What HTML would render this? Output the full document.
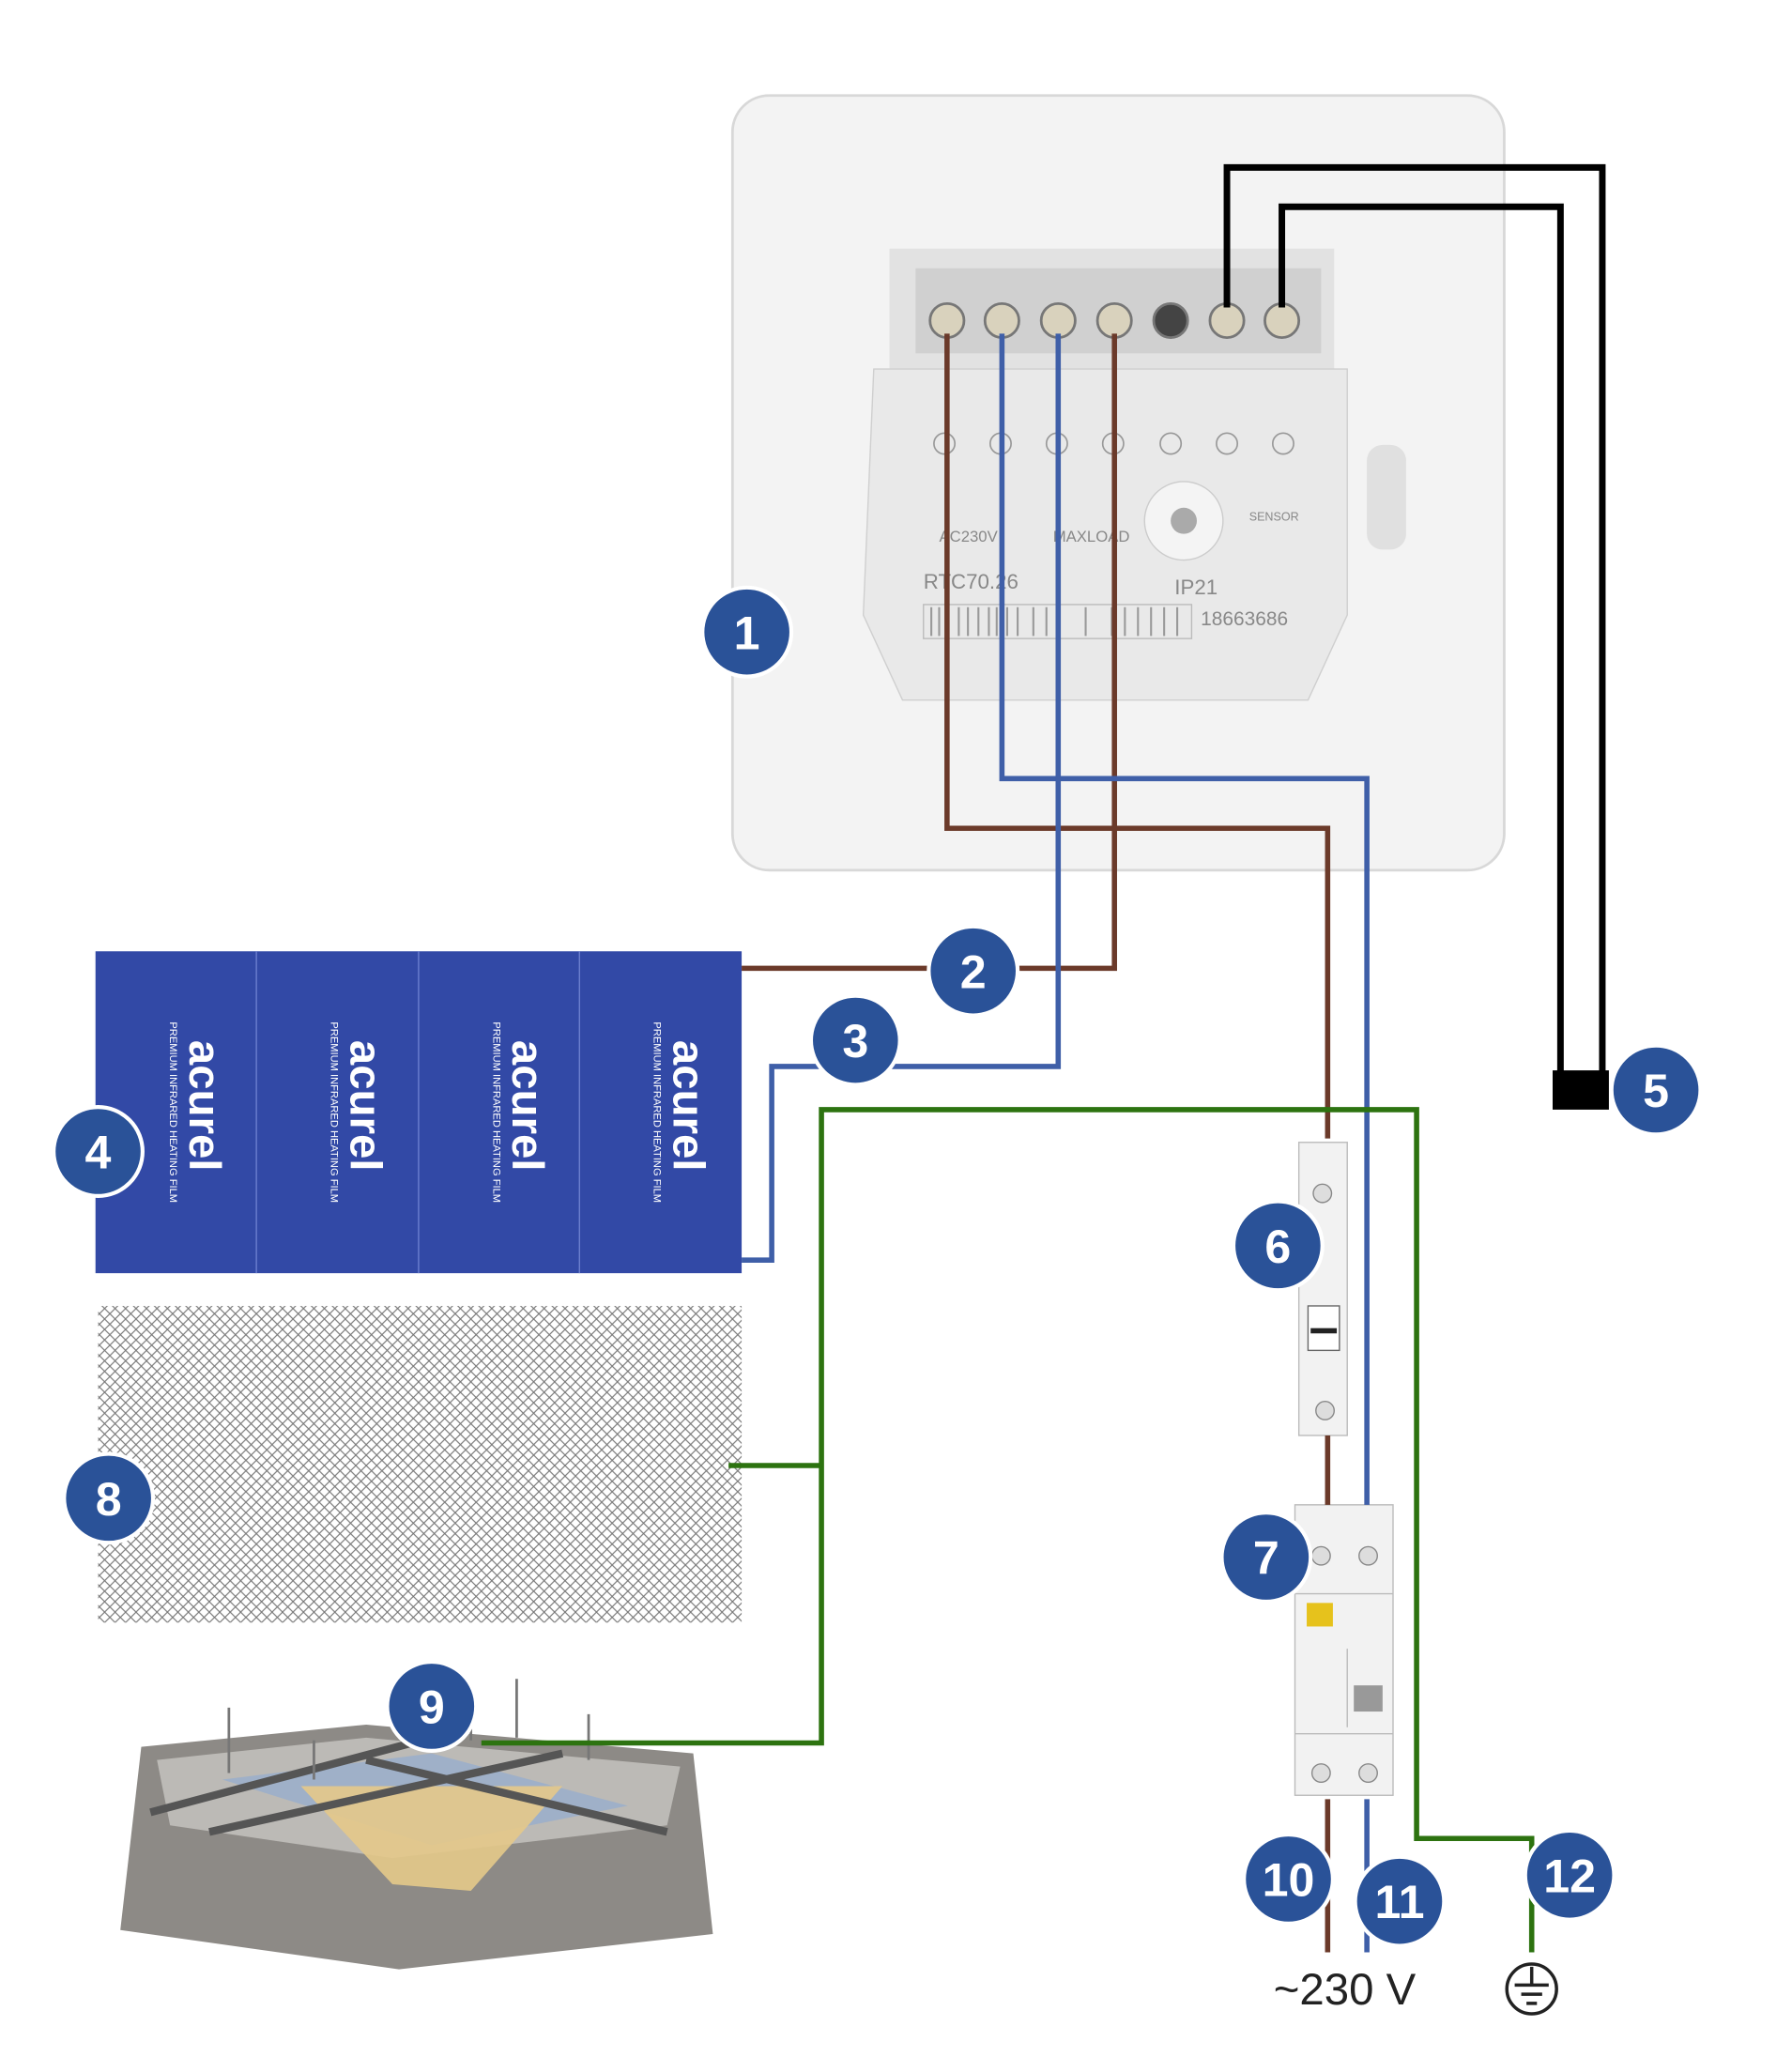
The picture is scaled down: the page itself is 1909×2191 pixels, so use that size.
<!DOCTYPE html>
<html><head><meta charset="utf-8"><style>html,body{margin:0;padding:0;background:#fff}svg{display:block}</style></head>
<body>
<svg width="1909" height="2191" viewBox="0 0 1370 1572" preserveAspectRatio="none" xmlns="http://www.w3.org/2000/svg" font-family="Liberation Sans, sans-serif">
<defs>
<pattern id="mesh" width="8" height="8" patternUnits="userSpaceOnUse">
<path d="M0 0L8 8M8 0L0 8" stroke="#777" stroke-width="0.8"/>
</pattern>
</defs>
<rect width="1370" height="1572" fill="#fff"/>
<!-- thermostat plate -->
<rect x="560" y="73" width="590" height="592" rx="28" fill="#f3f3f3" stroke="#d8d8d8" stroke-width="2"/>
<rect x="680" y="190" width="340" height="95" fill="#e2e2e2"/>
<rect x="700" y="205" width="310" height="65" fill="#d0d0d0"/>
<path d="M668 282 L1030 282 L1030 470 L1000 535 L690 535 L660 470 Z" fill="#e9e9e9" stroke="#cfcfcf"/>
<rect x="1045" y="340" width="30" height="80" rx="12" fill="#e0e0e0"/>
<circle cx="905" cy="398" r="30" fill="#f4f4f4" stroke="#ccc"/>
<circle cx="905" cy="398" r="10" fill="#aaa"/>
<g font-size="16" fill="#888">
<text x="706" y="450">RTC70.26</text>
<text x="898" y="454">IP21</text>
<text x="918" y="478" font-size="15">18663686</text>
<text x="718" y="414" font-size="12">AC230V</text>
<text x="805" y="414" font-size="12">MAXLOAD</text>
<text x="955" y="398" font-size="9">SENSOR</text>
</g>
<g fill="none" stroke="#999" stroke-width="1.2">
<circle cx="722" cy="339" r="8"/><circle cx="765" cy="339" r="8"/><circle cx="808" cy="339" r="8"/><circle cx="851" cy="339" r="8"/><circle cx="895" cy="339" r="8"/><circle cx="938" cy="339" r="8"/><circle cx="981" cy="339" r="8"/>
</g>
<rect x="706" y="462" width="205" height="26" fill="none" stroke="#bbb"/>
<g stroke="#999" stroke-width="1.5">
<path d="M712 464v22M718 464v22M725 464v22M733 464v22M740 464v22M748 464v22M756 464v22M762 464v22M770 464v22M778 464v22M790 464v22M800 464v22M830 464v22M850 464v22M860 464v22M870 464v22M880 464v22M890 464v22M900 464v22"/>
</g>
<g fill="#d9d2bd" stroke="#777" stroke-width="2">
<circle cx="724" cy="245" r="13"/><circle cx="766" cy="245" r="13"/><circle cx="809" cy="245" r="13"/><circle cx="852" cy="245" r="13"/><circle cx="895" cy="245" r="13" fill="#444"/><circle cx="938" cy="245" r="13"/><circle cx="980" cy="245" r="13"/>
</g>
<!-- heating film -->
<rect x="73" y="727" width="494" height="246" fill="#3249a6"/>
<g stroke="#6b7fcf" stroke-width="1"><path d="M196 727v246M320 727v246M443 727v246"/></g>
<g fill="#fff" font-weight="bold" font-size="34">
<text transform="translate(145,845) rotate(90)" text-anchor="middle">acurel</text>
<text transform="translate(268,845) rotate(90)" text-anchor="middle">acurel</text>
<text transform="translate(392,845) rotate(90)" text-anchor="middle">acurel</text>
<text transform="translate(515,845) rotate(90)" text-anchor="middle">acurel</text>
</g>
<g fill="#fff" font-size="8">
<text transform="translate(130,850) rotate(90)" text-anchor="middle">PREMIUM INFRARED HEATING FILM</text>
<text transform="translate(253,850) rotate(90)" text-anchor="middle">PREMIUM INFRARED HEATING FILM</text>
<text transform="translate(377,850) rotate(90)" text-anchor="middle">PREMIUM INFRARED HEATING FILM</text>
<text transform="translate(500,850) rotate(90)" text-anchor="middle">PREMIUM INFRARED HEATING FILM</text>
</g>
<!-- mesh -->
<rect x="75" y="998" width="492" height="242" fill="url(#mesh)"/>
<!-- ceiling -->
<polygon points="108,1335 280,1318 530,1340 545,1478 305,1505 92,1475" fill="#8d8a86"/>
<polygon points="120,1345 280,1328 520,1350 510,1395 300,1420 130,1395" fill="#bcbab6"/>
<polygon points="170,1360 330,1340 480,1380 330,1410" fill="#9fb0c8"/>
<polygon points="230,1365 430,1365 360,1445 300,1440" fill="#e4c98a" opacity="0.9"/>
<g stroke="#555" stroke-width="6"><path d="M115 1385 L360 1320 M160 1400 L430 1340 M280 1345 L510 1400"/></g>
<g stroke="#777" stroke-width="2"><path d="M175 1305v50M240 1330v30M395 1283v45M450 1310v35M360 1300v30"/></g>
<!-- devices -->
<rect x="993" y="873" width="37" height="224" fill="#f2f2f2" stroke="#bbb"/>
<circle cx="1011" cy="912" r="7" fill="#ddd" stroke="#888"/>
<circle cx="1013" cy="1078" r="7" fill="#ddd" stroke="#888"/>
<rect x="1000" y="998" width="24" height="34" fill="#fff" stroke="#666"/>
<rect x="1002" y="1015" width="20" height="4" fill="#222"/>
<rect x="990" y="1150" width="75" height="222" fill="#f2f2f2" stroke="#bbb"/>
<circle cx="1010" cy="1189" r="7" fill="#ddd" stroke="#888"/><circle cx="1046" cy="1189" r="7" fill="#ddd" stroke="#888"/>
<circle cx="1010" cy="1355" r="7" fill="#ddd" stroke="#888"/><circle cx="1046" cy="1355" r="7" fill="#ddd" stroke="#888"/>
<rect x="999" y="1225" width="20" height="18" fill="#e6c21c"/>
<rect x="1035" y="1288" width="22" height="20" fill="#999"/>
<path d="M990 1218h75M990 1325h75M1030 1260v60" stroke="#bbb" fill="none"/>
<!-- wires -->
<g fill="none" stroke-width="4">
<path d="M724 255V633H1015V870M1015 1097V1150M1015 1375V1492" stroke="#6b3a2a"/>
<path d="M852 255V740H567" stroke="#6b3a2a"/>
<path d="M766 255V595H1045V1150M1045 1375V1492" stroke="#3f5fa8"/>
<path d="M809 255V815H590V963H567" stroke="#3f5fa8"/>
<path d="M938 235V128H1225V820M980 235V158H1193V820" stroke="#000" stroke-width="5"/>
<path d="M1083 1097V848H628V1332H368M557 1120H628M1083 1097V1405H1171V1492" stroke="#2d7310"/>
</g>
<rect x="1187" y="818" width="43" height="30" fill="#000"/>
<!-- ground & label -->
<text x="1028" y="1532" font-size="34" text-anchor="middle" fill="#222">~230 V</text>
<g stroke="#222" stroke-width="2.5" fill="none">
<circle cx="1171" cy="1520" r="19"/>
<path d="M1171 1503v14M1158 1517h26M1163 1524h16M1167 1531h8"/>
</g>
<!-- badges -->
<g fill="#2a5298" stroke="#fff" stroke-width="3">
<circle cx="571" cy="483" r="34"/><circle cx="744" cy="742" r="34"/><circle cx="654" cy="795" r="34"/><circle cx="75" cy="880" r="34"/><circle cx="1266" cy="833" r="34"/><circle cx="977" cy="952" r="34"/><circle cx="968" cy="1190" r="34"/><circle cx="83" cy="1145" r="34"/><circle cx="330" cy="1304" r="34"/><circle cx="985" cy="1436" r="34"/><circle cx="1070" cy="1453" r="34"/><circle cx="1200" cy="1433" r="34"/>
</g>
<g fill="#fff" font-weight="bold" font-size="36" text-anchor="middle">
<text x="571" y="496">1</text><text x="744" y="755">2</text><text x="654" y="808">3</text><text x="75" y="893">4</text><text x="1266" y="846">5</text><text x="977" y="965">6</text><text x="968" y="1203">7</text><text x="83" y="1158">8</text><text x="330" y="1317">9</text><text x="985" y="1449">10</text><text x="1070" y="1466">11</text><text x="1200" y="1446">12</text>
</g>
</svg>
</body></html>
